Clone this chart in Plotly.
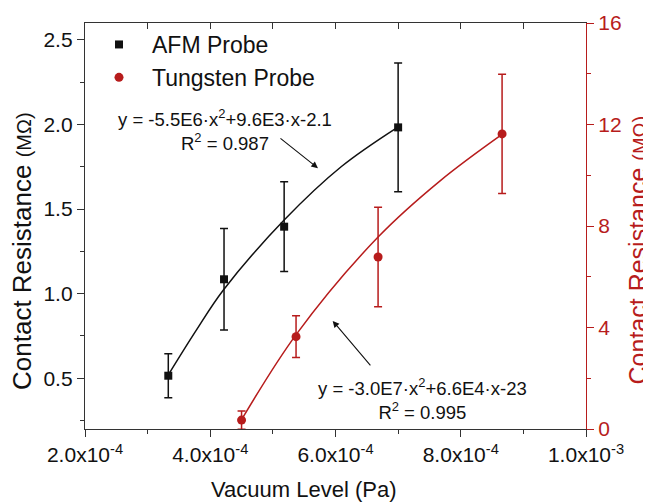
import plotly.graph_objects as go

# ---- data ----
afm_x = [3.33e-4, 4.22e-4, 5.18e-4, 7.00e-4]
afm_y = [0.515, 1.085, 1.396, 1.983]
afm_err = [0.13, 0.30, 0.265, 0.38]

w_x = [4.50e-4, 5.37e-4, 6.68e-4, 8.66e-4]
w_y = [0.35, 3.64, 6.78, 11.63]
w_err = [0.36, 0.82, 1.96, 2.35]

# fit curves
afm_fit_x = [3.33e-4, 3.77e-4, 4.21e-4, 5.18e-4, 6.09e-4, 6.99e-4]
afm_fit_y = [0.52, 0.78, 1.022, 1.435, 1.75, 1.983]
w_fit_x = [4.50e-4, 5.38e-4, 6.68e-4, 7.68e-4, 8.67e-4]
w_fit_y = [0.365, 3.75, 7.565, 9.8, 11.63]

x_ticks = [2e-4, 4e-4, 6e-4, 8e-4, 1e-3]
x_ticktext = ["2.0x10<sup>-4</sup>", "4.0x10<sup>-4</sup>", "6.0x10<sup>-4</sup>",
              "8.0x10<sup>-4</sup>", "1.0x10<sup>-3</sup>"]
x_minor = [3e-4, 5e-4, 7e-4, 9e-4]
x_all = [2e-4, 3e-4, 4e-4, 5e-4, 6e-4, 7e-4, 8e-4, 9e-4, 1e-3]

RED = "#B71C1C"
BLK = "#111111"
AX = "#333333"
FONT = "Liberation Sans, Arial, sans-serif"

fig = go.Figure()

fig.add_trace(go.Scatter(x=afm_fit_x, y=afm_fit_y, mode="lines",
                         line=dict(color=BLK, width=1.5, shape="spline", smoothing=1.0),
                         showlegend=False, hoverinfo="skip"))
fig.add_trace(go.Scatter(x=w_fit_x, y=w_fit_y, mode="lines", yaxis="y2",
                         line=dict(color=RED, width=1.5, shape="spline", smoothing=1.0),
                         showlegend=False, hoverinfo="skip"))

fig.add_trace(go.Scatter(x=afm_x, y=afm_y, mode="markers", name="AFM Probe",
                         marker=dict(symbol="square", size=8, color=BLK),
                         error_y=dict(type="data", array=afm_err, color=BLK,
                                      thickness=1.5, width=4)))
fig.add_trace(go.Scatter(x=w_x, y=w_y, mode="markers", name="Tungsten Probe", yaxis="y2",
                         marker=dict(symbol="circle", size=9, color=RED),
                         error_y=dict(type="data", array=w_err, color=RED,
                                      thickness=1.5, width=4)))
# invisible trace to carry the top mirror axis
fig.add_trace(go.Scatter(x=[x_all[0], x_all[-1]], y=[1, 1], xaxis="x2", mode="markers",
                         marker=dict(opacity=0), showlegend=False, hoverinfo="skip"))

fig.update_layout(
    width=643, height=496,
    margin=dict(l=77, r=65, t=15, b=75, autoexpand=False),
    paper_bgcolor="white", plot_bgcolor="white",
    font=dict(family=FONT, color=BLK),
    showlegend=True,
    legend=dict(x=0.002, y=1.0, xanchor="left", yanchor="top",
                font=dict(size=23, family=FONT, color=BLK),
                bgcolor="rgba(0,0,0,0)", itemwidth=56, tracegroupgap=0),
    xaxis=dict(range=[2e-4, 1e-3], tickmode="array", tickvals=x_ticks, ticktext=x_ticktext,
               ticks="outside", ticklen=7, tickwidth=1.3, tickcolor=AX,
               showline=True, linecolor=AX, linewidth=1.3, showgrid=False, zeroline=False,
               tickfont=dict(size=21, color=BLK), automargin=False,
               minor=dict(tickmode="array", tickvals=x_minor, ticks="outside", ticklen=4,
                          tickwidth=1.3, tickcolor=AX, showgrid=False)),
    xaxis2=dict(range=[2e-4, 1e-3], overlaying="x", side="top", anchor="y",
                tickmode="array", tickvals=x_all, ticks="inside", ticklen=6, tickwidth=1.3,
                tickcolor=AX, showticklabels=False, showline=True, linecolor=AX,
                linewidth=1.3, showgrid=False, zeroline=False, automargin=False),
    yaxis=dict(range=[0.2, 2.6], tickmode="linear", tick0=0.5, dtick=0.5,
               tickformat=".1f", ticks="outside", ticklen=7, tickwidth=1.3, tickcolor=AX,
               showline=True, linecolor=AX, linewidth=1.3, showgrid=False, zeroline=False,
               tickfont=dict(size=21, color=BLK), automargin=False,
               minor=dict(dtick=0.25, ticks="outside", ticklen=4, tickwidth=1.3,
                          tickcolor=AX, showgrid=False)),
    yaxis2=dict(range=[0, 16], overlaying="y", side="right", anchor="x",
                tickmode="linear", tick0=0, dtick=4, ticks="outside", ticklen=7,
                tickwidth=1.3, tickcolor=RED, showline=True, linecolor=RED, linewidth=1.3,
                showgrid=False, zeroline=False, tickfont=dict(size=21, color=RED),
                automargin=False,
                minor=dict(dtick=2, ticks="outside", ticklen=4, tickwidth=1.3,
                           tickcolor=RED, showgrid=False)),
)

annots = [
    dict(text="Vacuum Level (Pa)", xref="paper", yref="paper", x=0.437, y=-0.149,
         xanchor="center", yanchor="middle", showarrow=False,
         font=dict(size=22, color=BLK)),
    dict(text="Contact Resistance <span style='font-size:20px'>(MΩ)</span>",
         xref="paper", yref="paper", x=-0.1257, y=0.4385, textangle=-90,
         xanchor="center", yanchor="middle", showarrow=False,
         font=dict(size=26, color=BLK)),
    dict(text="Contact Resistance <span style='font-size:20px'>(MΩ)</span>",
         xref="paper", yref="paper", x=1.104, y=0.44, textangle=-90,
         xanchor="center", yanchor="middle", showarrow=False,
         font=dict(size=25, color=RED)),
    dict(text="y = -5.5E6·x<sup>2</sup>+9.6E3·x-2.1<br>R<sup>2</sup> = 0.987",
         xref="paper", yref="paper", x=0.2794, y=0.737, xanchor="center", yanchor="middle",
         showarrow=False, align="center", font=dict(size=18.5, color=BLK)),
    dict(text="y = -3.0E7·x<sup>2</sup>+6.6E4·x-23<br>R<sup>2</sup> = 0.995",
         xref="paper", yref="paper", x=0.6727, y=0.0745, xanchor="center", yanchor="middle",
         showarrow=False, align="center", font=dict(size=18.5, color=BLK)),
    dict(text="", xref="x", yref="y", x=5.72e-4, y=1.742, ax=-39, ay=-31,
         showarrow=True, arrowhead=2, arrowsize=1.2, arrowwidth=1.1, arrowcolor=BLK),
    dict(text="", xref="x", yref="y", x=5.955e-4, y=0.839, ax=39, ay=46,
         showarrow=True, arrowhead=2, arrowsize=1.2, arrowwidth=1.1, arrowcolor=BLK),
]
fig.update_layout(annotations=annots)

fig.write_html("out.html")
